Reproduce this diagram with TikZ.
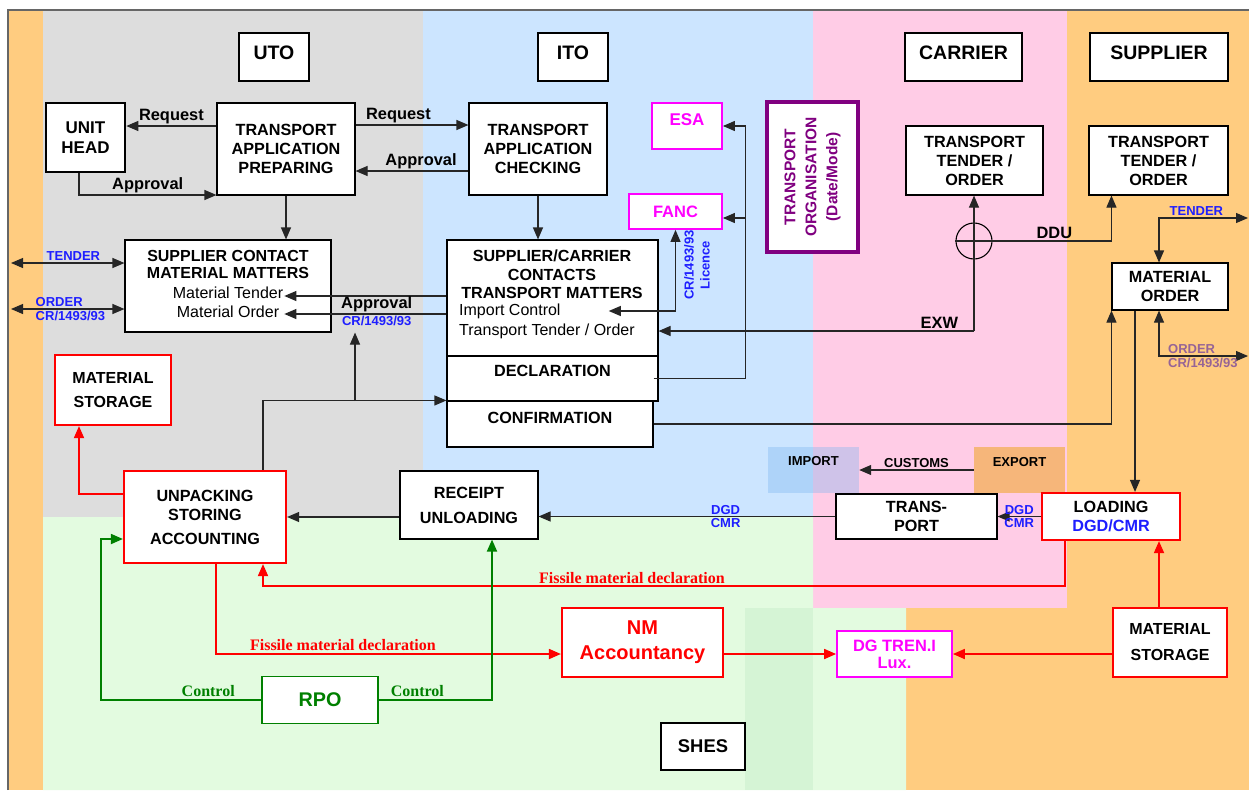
\documentclass[tikz,border=0pt]{standalone}
\usepackage{fontspec}
\setmainfont{Liberation Sans}
\newfontfamily\timesfont{Liberation Serif}
\usetikzlibrary{arrows.meta}
\newcommand\setfs[2]{\fontsize{#1}{#2}\selectfont}

\definecolor{supplierbg}{RGB}{255,204,128}
\definecolor{utobg}{RGB}{221,221,221}
\definecolor{itobg}{RGB}{204,229,255}
\definecolor{carrierbg}{RGB}{255,204,230}
\definecolor{shesbg}{RGB}{227,251,224}
\definecolor{shesdark}{RGB}{213,244,213}
\definecolor{impblue}{RGB}{120,180,240}
\definecolor{expbg}{RGB}{246,182,122}
\definecolor{fmred}{RGB}{255,0,0}
\definecolor{fmmag}{RGB}{255,0,255}
\definecolor{fmpurple}{RGB}{128,0,128}
\definecolor{fmgreen}{RGB}{0,128,0}
\definecolor{fmblue}{RGB}{30,30,255}
\definecolor{fmmauve}{RGB}{150,100,150}

\tikzset{
	>={Triangle[length=12pt,width=10pt]},
	box/.style={draw, fill=white, line width=1.1pt, align=center, inner sep=0pt, font=\bfseries\setfs{16.2}{19}},
	hdrbox/.style={box, line width=2pt, text depth=8pt, font=\bfseries\setfs{19.5}{22}},
	redbox/.style={box, draw=fmred, line width=2.2pt},
	magbox/.style={box, draw=fmmag, text=fmmag, line width=1.8pt},
	grnbox/.style={box, draw=fmgreen, text=fmgreen, line width=1.8pt},
	shadebox/.style={inner sep=0pt, align=center, font=\bfseries\setfs{13}{15}},
	plain/.style={inner sep=1pt, font=\setfs{16}{18}},
	lbl/.style={inner sep=2pt, font=\bfseries\setfs{16.4}{18}},
	smlbl/.style={inner sep=2pt, font=\bfseries\setfs{13}{15}},
	blbl/.style={inner sep=1.5pt, text=fmblue, font=\bfseries\setfs{13}{15}},
	olbl/.style={blbl, text=fmmauve},
	rlbl/.style={inner sep=2pt, text=fmred, font=\timesfont\bfseries\setfs{16}{18}},
	glbl/.style={rlbl, text=fmgreen},
	arr/.style={draw=black!85, line width=1.1pt, ->},
	dblarr/.style={arr, <->},
	rarr/.style={arr, draw=fmred, line width=1.8pt},
	garr/.style={arr, draw=fmgreen, line width=1.8pt},
}

\begin{document}
		\begin{tikzpicture}[x=1pt,y=-1pt]
		\useasboundingbox (0,0) rectangle (1249,790);
		\fill[white] (0,0) rectangle (1249,790);
		\fill[supplierbg] (8,10) rectangle (1249,790);
		\fill[utobg] (43,10) rectangle (423,517);
		\fill[itobg] (423,10) rectangle (813,517);
		\fill[carrierbg] (813,10) rectangle (1067,608);
		\fill[shesbg] (43,517) -- (813,517) -- (813,608) -- (906,608) -- (906,790) -- (43,790) -- cycle;
		\fill[shesdark] (745,608) rectangle (813,790);
		\draw[black!60, line width=1.5pt] (8,790) -- (8,10) -- (1249,10);
		\coordinate (lft) at (11,0);
		\coordinate (rgt) at (1248,0);

		\node[hdrbox, minimum width=70pt, minimum height=48pt] (uto) at (274,57) {UTO};
		\node[hdrbox, minimum width=70pt, minimum height=48pt] (ito) at (573,57) {ITO};
		\node[hdrbox, minimum width=117pt, minimum height=48pt] (carrier) at (963.5,57) {CARRIER};
		\node[hdrbox, minimum width=138pt, minimum height=48pt] (supplier) at (1159,57) {SUPPLIER};

		\node[box, line width=2.6pt, minimum width=79pt, minimum height=69pt, font=\bfseries\setfs{17}{20}] (unithead) at (85.5,137.5) {UNIT\\HEAD};
		\node[box, minimum width=138pt, minimum height=92pt] (tap) at (286,149) {TRANSPORT\\APPLICATION\\PREPARING};
		\node[box, minimum width=138pt, minimum height=92pt] (tac) at (538,149) {TRANSPORT\\APPLICATION\\CHECKING};
		\node[magbox, minimum width=70pt, minimum height=46pt, text depth=12pt, font=\bfseries\setfs{17}{19}] (esa) at (687,126) {ESA};
		\node[magbox, minimum width=93pt, minimum height=35pt, font=\bfseries\setfs{16.5}{19}] (fanc) at (675.5,211.5) {FANC};
		\node[box, draw=fmpurple, text=fmpurple, line width=3.5pt, rotate=90, minimum width=150pt, minimum height=91pt, font=\bfseries\setfs{15.5}{21}] (torg) at (812.5,177) {TRANSPORT\\ORGANISATION\\(Date/Mode)};
		\node[box, minimum width=137pt, minimum height=69pt] (ctto) at (974.5,160.5) {TRANSPORT\\TENDER /\\ORDER};
		\node[box, minimum width=139pt, minimum height=69pt] (stto) at (1158.5,160.5) {TRANSPORT\\TENDER /\\ORDER};

		\node[box, minimum width=206pt, minimum height=92pt] (scmm) at (228,286) {};
		\node[align=center, inner sep=0pt, font=\bfseries\setfs{16}{17}] (scmmtitle) at (228,264.5) {SUPPLIER CONTACT\\MATERIAL MATTERS};
		\node[plain] (mten) at (228,293) {Material Tender};
		\node[plain] (mord) at (228,312) {Material Order};

		\node[box, minimum width=211pt, minimum height=116pt] (sctm) at (552.5,298) {};
		\node[align=center, inner sep=0pt, font=\bfseries\setfs{16.1}{18.5}] (sctmtitle) at (552,274.5) {SUPPLIER/CARRIER\\CONTACTS\\TRANSPORT MATTERS};
		\node[plain, anchor=west, inner sep=0pt] (impc) at (459,311) {Import Control};
		\node[plain, anchor=west, inner sep=0pt] (tto) at (459,331) {Transport Tender / Order};
		\node[box, minimum width=211pt, minimum height=45pt, text depth=15pt] (decl) at (552.5,378.5) {DECLARATION};
		\node[box, minimum width=206pt, minimum height=46pt, text depth=12pt] (conf) at (550,424) {CONFIRMATION};
		\node[blbl, rotate=90, align=center, font=\bfseries\setfs{13}{16}] (licence) at (697,265) {CR/1493/93\\Licence};

		\node[box, minimum width=116pt, minimum height=47pt] (morder) at (1170,286.5) {MATERIAL\\ORDER};
		\node[redbox, minimum width=116pt, minimum height=70pt, font=\bfseries\setfs{16}{24}] (mstore1) at (113,390) {MATERIAL\\STORAGE};
		\node[redbox, minimum width=162pt, minimum height=92pt] (unpack) at (205,517) {UNPACKING\\STORING\\[5pt]ACCOUNTING};
		\node[box, minimum width=138pt, minimum height=68pt, font=\bfseries\setfs{16.2}{25}] (receipt) at (469,505) {RECEIPT\\UNLOADING};
		\node[shadebox, fill=impblue, fill opacity=0.35, text opacity=1, minimum width=91pt, minimum height=46pt, text depth=19pt] (import) at (813.5,470) {IMPORT};
		\node[shadebox, fill=expbg, minimum width=91pt, minimum height=46pt, text depth=17pt] (export) at (1019.5,470) {EXPORT};
		\node[box, minimum width=161pt, minimum height=45pt] (transport) at (916.5,516.5) {TRANS-\\PORT};
		\node[redbox, minimum width=138pt, minimum height=47pt] (loading) at (1111,516.5) {LOADING\\\textcolor{fmblue}{DGD/CMR}};
		\node[redbox, text=fmred, minimum width=161pt, minimum height=69pt, font=\bfseries\setfs{20}{25}] (nm) at (642.5,642.5) {NM\\Accountancy};
		\node[magbox, minimum width=115pt, minimum height=46pt, font=\bfseries\setfs{16.4}{17}] (dgtren) at (894.5,654) {DG TREN.I\\Lux.};
		\node[redbox, minimum width=114pt, minimum height=69pt, font=\bfseries\setfs{16}{26}] (mstore2) at (1170,642.5) {MATERIAL\\STORAGE};
		\node[grnbox, minimum width=116pt, minimum height=47pt, font=\bfseries\setfs{19.8}{22}] (rpo) at (320,700) {RPO};
		\node[box, line width=2.6pt, minimum width=84pt, minimum height=47pt, font=\bfseries\setfs{18.4}{20}] (shes) at (703,746.5) {SHES};
		\node[draw, circle, line width=1.1pt, minimum size=36pt, inner sep=0pt] (xcirc) at (974,241) {};

		\draw[arr] (tap.west |- 0,126) -- node[lbl, above] {Request} (unithead.east |- 0,126);
		\draw[arr] (unithead.south -| 79,0) |- node[lbl, above, pos=0.75] {Approval} (tap.west |- 0,195);
		\draw[arr] (tap.east |- 0,125) -- node[lbl, above, pos=0.38] {Request} (tac.west |- 0,125);
		\draw[arr] (tac.west |- 0,171) -- node[lbl, above, pos=0.42] {Approval} (tap.east |- 0,171);
		\draw[arr] (tap.south) -- (tap.south |- scmm.north);
		\draw[arr] (tac.south) -- (tac.south |- sctm.north);
		\draw[dblarr] (lft |- 0,263) -- node[blbl, above, pos=0.55] {TENDER} (scmm.west |- 0,263);
		\draw[dblarr] (lft |- 0,309) -- node[blbl, pos=0.2, anchor=south west] {ORDER} node[blbl, pos=0.2, anchor=north west] {CR/1493/93} (scmm.west |- 0,309);
		\draw[arr] ([yshift=-3pt]sctm.west |- mten) -- node[lbl, below, inner sep=0pt, pos=0.43] {Approval} ([yshift=-3pt]mten.east);
		\draw[arr] ([yshift=-2pt]sctm.west |- mord) -- node[blbl, below, pos=0.43] {CR/1493/93} ([yshift=-2pt]mord.east -| mten.east);

		\coordinate (confjct) at (355,401);
		\draw[arr] ([xshift=58pt]unpack.north) |- (conf.north west);
		\draw[arr] (confjct) -- (confjct |- scmm.south);
		\draw[dblarr] ([xshift=48pt]impc.east) -| (fanc.south);
		\coordinate (declbus) at ([xshift=23pt]esa.east);
		\draw[arr] ([xshift=-5pt]decl.east) -| (declbus) -- (esa.east);
		\draw[arr] (declbus |- 0,218) -- (fanc.east |- 0,218);

		\draw[arr] (xcirc |- tto) -- node[lbl, above, pos=0.11] {EXW} (sctm.east |- tto);
		\draw[arr] (xcirc |- tto) -- (xcirc |- ctto.south);
		\draw[arr] (xcirc.west) -- (xcirc.east) -| node[lbl, above, pos=0.26] {DDU} (stto.south -| morder.west);
		\draw[dblarr] (rgt |- 0,218) -| node[blbl, above, pos=0.29] {TENDER} ([xshift=-11pt]morder.north);
		\draw[dblarr] (rgt |- 0,356) -| node[olbl, pos=0.46, anchor=south west] {ORDER} node[olbl, pos=0.46, anchor=north west] {CR/1493/93} ([xshift=-11pt]morder.south);
		\draw[arr] (conf.east) -| (morder.south west);
		\draw[arr] ([xshift=-35pt]morder.south) -- ([xshift=-35pt]morder.south |- loading.north);

		\draw[arr] (loading.west) -- node[blbl, above] {DGD} node[blbl, below] {CMR} (transport.east);
		\draw[arr] (transport.west) -- node[blbl, above, pos=0.37] {DGD} node[blbl, below, pos=0.37] {CMR} (receipt.east |- transport.west);
		\draw[arr] (receipt.west |- unpack.east) -- (unpack.east);
		\draw[arr] (export.west) -- node[smlbl, above] {CUSTOMS} (import.east);

		\draw[rarr] ([yshift=23pt]unpack.west) -| ([xshift=-34pt]mstore1.south);
		\draw[rarr] ([xshift=-46pt]loading.south) -- ++(0,45) -| node[rlbl, above, pos=0.27] {Fissile material declaration} ([xshift=58pt]unpack.south);
		\draw[rarr] ([xshift=11pt]unpack.south) |- node[rlbl, above, pos=0.684] {Fissile material declaration} ([yshift=-11.5pt]nm.west);
		\draw[rarr] (nm.east |- dgtren.west) -- (dgtren.west);
		\draw[rarr] (mstore2.west |- dgtren.east) -- (dgtren.east);
		\draw[rarr] ([xshift=-11pt]mstore2.north) -- ([xshift=-11pt]mstore2.north |- loading.south);

		\draw[garr] (rpo.west) -| node[glbl, above, pos=0.165] {Control} ([xshift=-22pt,yshift=-22pt]unpack.west) -- ([yshift=-22pt]unpack.west);
		\draw[garr] (rpo.east) -| node[glbl, above, pos=0.17] {Control} ([xshift=23pt]receipt.south);
		\end{tikzpicture}
\end{document}
